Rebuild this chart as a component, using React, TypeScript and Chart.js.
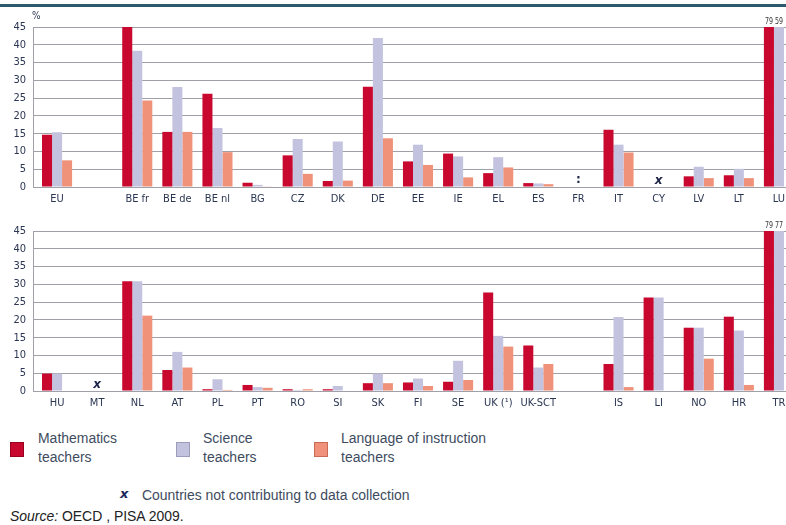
import React, { useEffect, useRef } from "react";
import { Chart, registerables } from "chart.js";
Chart.register(...registerables);

// ---------- DATA ----------
const topCategories = ["EU", "", "BE fr", "BE de", "BE nl", "BG", "CZ", "DK", "DE", "EE", "IE", "EL", "ES", "FR", "IT", "CY", "LV", "LT", "LU"];
const topMath = [14.7, null, 45, 15.5, 26.2, 1.2, 8.9, 1.7, 28.2, 7.2, 9.4, 3.9, 1.1, null, 16.1, null, 3.0, 3.3, 79];
const topScience = [15.4, null, 38.3, 28.1, 16.6, 0.6, 13.5, 12.8, 41.9, 11.9, 8.6, 8.4, 1.0, null, 11.9, null, 5.7, 5.1, 59];
const topLanguage = [7.5, null, 24.3, 15.5, 9.8, 0.1, 3.7, 1.8, 13.7, 6.2, 2.7, 5.5, 0.8, null, 9.7, null, 2.5, 2.5, null];
const topNotContributing = ["CY"];
const topNotAvailable = ["FR"];

const bottomCategories = ["HU", "MT", "NL", "AT", "PL", "PT", "RO", "SI", "SK", "FI", "SE", "UK (¹)", "UK-SCT", "", "IS", "LI", "NO", "HR", "TR"];
const bottomMath = [4.9, null, 30.9, 5.9, 0.5, 1.7, 0.5, 0.5, 2.2, 2.4, 2.6, 27.7, 12.8, null, 7.6, 26.3, 17.8, 20.9, 79];
const bottomScience = [4.9, null, 30.9, 11.0, 3.3, 1.1, 0.3, 1.4, 4.9, 3.5, 8.5, 15.5, 6.6, null, 20.8, 26.3, 17.8, 17.0, 77];
const bottomLanguage = [0, null, 21.2, 6.6, 0.3, 0.9, 0.5, 0, 2.2, 1.4, 3.1, 12.5, 7.6, null, 1.1, 0, 9.1, 1.7, null];
const bottomNotContributing = ["MT"];
const bottomNotAvailable: string[] = [];

const seriesNames = ["Mathematics teachers", "Science teachers", "Language of instruction teachers"];
const yMin = 0;
const yMax = 45;
const yStep = 5;

// ---------- STYLE ----------
const RED = "#c8082e";
const LAVENDER = "#c3c3df";
const SALMON = "#ef9279";
const GRID = "#a0a0a9";
const TICK_COLOR = "#2b3652";
const NARROW = "'Liberation Sans Narrow', 'DejaVu Sans Condensed', 'Arial Narrow', sans-serif";
const TICK_FONT = { family: NARROW, size: 11 };

function makeOverlay(showPercent: boolean, notContrib: string[], notAvail: string[], cats: string[]) {
  return {
    id: "overlay",
    afterDraw(chart: any) {
      const { ctx, chartArea, scales } = chart;
      ctx.save();
      // vertical axis line
      ctx.strokeStyle = GRID;
      ctx.lineWidth = 1;
      ctx.beginPath();
      ctx.moveTo(chartArea.left - 3.5, chartArea.top);
      ctx.lineTo(chartArea.left - 3.5, chartArea.bottom + 0.5);
      ctx.stroke();
      // percent sign
      if (showPercent) {
        ctx.fillStyle = TICK_COLOR;
        ctx.font = "10px " + NARROW;
        ctx.textAlign = "left";
        ctx.textBaseline = "middle";
        ctx.fillText("%", chartArea.left - 5, chartArea.top - 11);
      }
      // values above the axis maximum
      ctx.fillStyle = "#333";
      ctx.font = "9px " + NARROW;
      ctx.textAlign = "center";
      ctx.textBaseline = "middle";
      chart.data.datasets.forEach((ds: any, i: number) => {
        const meta = chart.getDatasetMeta(i);
        ds.data.forEach((v: any, j: number) => {
          if (v != null && v > yMax) {
            const el = meta.data[j];
            ctx.save();
            ctx.translate(el.x, chartArea.top - 5);
            ctx.scale(0.78, 1);
            ctx.fillText(String(v), 0, 0);
            ctx.restore();
          }
        });
      });
      // markers
      const y0 = scales.y.getPixelForValue(0);
      ctx.fillStyle = "#1c2448";
      notContrib.forEach((c) => {
        const idx = cats.indexOf(c);
        const x = scales.x.getPixelForValue(idx);
        ctx.font = "italic bold 12px 'DejaVu Sans', sans-serif";
        ctx.fillText("x", x, y0 - 6);
      });
      notAvail.forEach((c) => {
        const idx = cats.indexOf(c);
        const x = scales.x.getPixelForValue(idx);
        ctx.font = "bold 12px 'DejaVu Sans', sans-serif";
        ctx.fillText(":", x, y0 - 7);
      });
      ctx.restore();
    },
  };
}

function buildConfig(cats: string[], m: any[], s: any[], l: any[], showPercent: boolean, nc: string[], na: string[]) {
  return {
    type: "bar" as const,
    data: {
      labels: cats,
      datasets: [
        { label: seriesNames[0], data: m, backgroundColor: RED },
        { label: seriesNames[1], data: s, backgroundColor: LAVENDER },
        { label: seriesNames[2], data: l, backgroundColor: SALMON },
      ],
    },
    options: {
      responsive: false,
      animation: false as const,
      layout: { padding: { top: 27, left: 0, right: 0, bottom: 0 } },
      plugins: { legend: { display: false }, tooltip: { enabled: false } },
      datasets: { bar: { categoryPercentage: 0.75, barPercentage: 1 } },
      scales: {
        x: {
          grid: { display: false, drawTicks: false },
          border: { display: false },
          ticks: { autoSkip: false, maxRotation: 0, minRotation: 0, padding: 6, color: TICK_COLOR, font: TICK_FONT },
          afterFit: (sc: any) => { sc.height = 25; },
        },
        y: {
          min: yMin,
          max: yMax,
          ticks: { stepSize: yStep, padding: 7, color: TICK_COLOR, font: TICK_FONT },
          grid: { color: GRID, tickLength: 4, lineWidth: 1 },
          border: { display: false },
          afterFit: (sc: any) => { sc.width = 37; },
        },
      },
    },
    plugins: [makeOverlay(showPercent, nc, na, cats)],
  };
}

function BarPanel(props: { cats: string[]; m: any[]; s: any[]; l: any[]; pct: boolean; nc: string[]; na: string[]; top: number }) {
  const ref = useRef<HTMLCanvasElement>(null);
  useEffect(() => {
    if (!ref.current) return;
    const chart = new Chart(ref.current, buildConfig(props.cats, props.m, props.s, props.l, props.pct, props.nc, props.na) as any);
    return () => chart.destroy();
  }, []);
  return (
    <canvas
      ref={ref}
      width={799}
      height={212}
      style={{ position: "absolute", left: 0, top: props.top, width: 799, height: 212 }}
    />
  );
}

const textStyle: React.CSSProperties = {
  position: "absolute",
  fontFamily: "'Liberation Sans', Arial, sans-serif",
  fontSize: "15.5px",
  lineHeight: "19px",
  color: "#3e4b5e",
  whiteSpace: "pre",
  transform: "scaleX(0.9)",
  transformOrigin: "left top",
};

export default function App() {
  return (
    <div style={{ position: "fixed", left: 0, top: 0, width: 786, height: 525, overflow: "hidden", background: "#fff" }}>
      <div style={{ position: "absolute", left: 0, top: 4, width: 786, height: 3, background: "#2d5a6a" }} />
      <BarPanel cats={topCategories} m={topMath} s={topScience} l={topLanguage} pct={true} nc={topNotContributing} na={topNotAvailable} top={0} />
      <BarPanel cats={bottomCategories} m={bottomMath} s={bottomScience} l={bottomLanguage} pct={false} nc={bottomNotContributing} na={bottomNotAvailable} top={204} />

      <div style={{ position: "absolute", left: 10, top: 442, width: 12, height: 13, background: RED, border: "1px solid #9a0020" }} />
      <div style={{ ...textStyle, left: 38, top: 428 }}>{"Mathematics\nteachers"}</div>
      <div style={{ position: "absolute", left: 176, top: 442, width: 12, height: 13, background: LAVENDER, border: "1px solid #9c9cbc" }} />
      <div style={{ ...textStyle, left: 203, top: 428 }}>{"Science\nteachers"}</div>
      <div style={{ position: "absolute", left: 314, top: 442, width: 12, height: 13, background: SALMON, border: "1px solid #c86a55" }} />
      <div style={{ ...textStyle, left: 341, top: 428 }}>{"Language of instruction\nteachers"}</div>

      <div style={{ position: "absolute", left: 120, top: 486, fontFamily: "'DejaVu Sans', sans-serif", fontSize: "13px", fontWeight: "bold", fontStyle: "italic", color: "#1c2a5a" }}>x</div>
      <div style={{ ...textStyle, left: 142, top: 485 }}>Countries not contributing to data collection</div>
      <div style={{ ...textStyle, left: 10, top: 506, color: "#222" }}>
        <i>Source:</i> OECD , PISA 2009.
      </div>
    </div>
  );
}
